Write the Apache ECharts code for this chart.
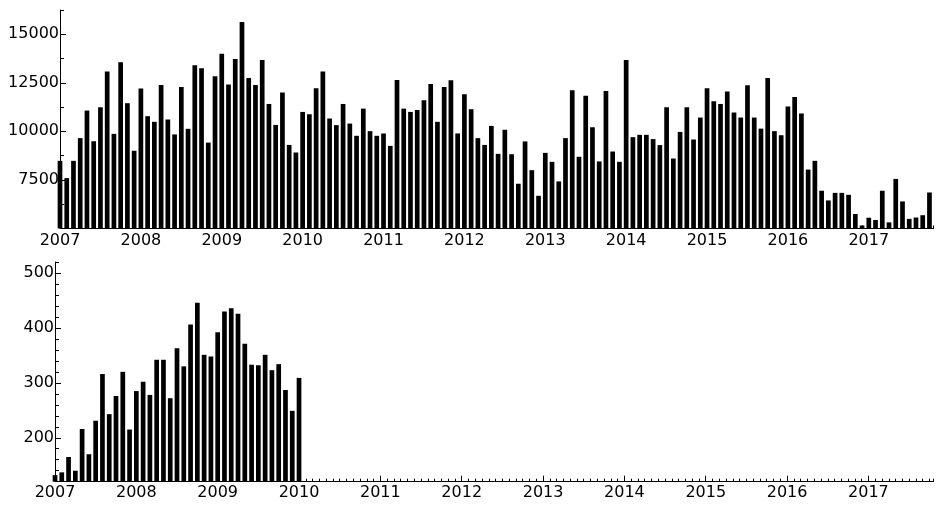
<!DOCTYPE html>
<html>
<head>
<meta charset="utf-8">
<script src="https://cdn.jsdelivr.net/npm/echarts@6/dist/echarts.min.js"></script>
<style>
html,body{margin:0;padding:0;background:#fff;}
#chart{width:936px;height:505px;}
</style>
</head>
<body>
<div id="chart"></div>
<script>
// Monthly values, Jan 2007 .. Oct 2017 (top panel)
const topValues = [
  8480, 7590, 8480, 9650, 11070, 9490, 11240, 13080, 9870, 13560, 11450, 9000,
  12200, 10780, 10490, 12390, 10610, 9840, 12290, 10130, 13400, 13250, 9420, 12840,
  14000, 12410, 13730, 15630, 12750, 12390, 13680, 11410, 10330, 12000, 9300, 8910,
  11000, 10880, 12220, 13080, 10660, 10320, 11410, 10400, 9770, 11170, 10010, 9770,
  9890, 9250, 12650, 11170, 11000, 11100, 11600, 12440, 10490, 12290, 12630, 9890,
  11910, 11140, 9650, 9300, 10280, 8840, 10080, 8820, 7300, 9480, 8000, 6680,
  8890, 8430, 7420, 9650, 12120, 8690, 11830, 10210, 8450, 12080, 8960, 8430,
  13680, 9700, 9820, 9820, 9600, 9290, 11240, 8600, 9970, 11240, 9580, 10710,
  12220, 11550, 11410, 12050, 10970, 10710, 12380, 10710, 10140, 12750, 10010, 9800,
  11280, 11770, 10920, 8030, 8480, 6940, 6440, 6830, 6830, 6730, 5740, 5150,
  5550, 5430, 6940, 5310, 7550, 6390, 5490, 5560, 5680, 6850
];
// Monthly values, Jan 2007 .. Jan 2010 (bottom panel)
const bottomValues = [
  132, 137, 165, 140, 216, 170, 231, 316, 243, 276, 320, 215,
  285, 302, 278, 342, 342, 272, 363, 330, 406, 446, 351, 348,
  392, 430, 436, 426, 371, 333, 332, 351, 323, 334, 287, 249,
  309
];
const yearLabels = ['2007','2008','2009','2010','2011','2012','2013','2014','2015','2016','2017'];
const topYTicks = [7500, 10000, 12500, 15000];
const bottomYTicks = [200, 300, 400, 500];

const yearTicks = yearLabels.map((y, i) => i * 12);
const FONT = 'DejaVu Sans';
const XMAX = 129.6;
const black = '#000';

function minorX(grid) {
  return {
    type: 'value', gridIndex: grid, position: 'bottom', min: 0, max: XMAX, interval: 1,
    axisLine: {show: true, onZero: false, lineStyle: {color: black, width: 1}},
    axisTick: {show: true, inside: true, length: 3, lineStyle: {color: black}},
    axisLabel: {show: false}, splitLine: {show: false}
  };
}
function majorX(grid, margin) {
  return {
    type: 'value', gridIndex: grid, position: 'bottom', offset: 0, min: 0, max: XMAX,
    axisLine: {show: false, onZero: false},
    axisTick: {show: true, inside: true, length: 6, customValues: yearTicks, lineStyle: {color: black}},
    axisLabel: {show: true, customValues: yearTicks, margin: margin, color: black,
      fontFamily: FONT, fontSize: 16,
      formatter: v => yearLabels[Math.round(v / 12)]},
    splitLine: {show: false}
  };
}
function minorY(grid, min, max, interval) {
  return {
    type: 'value', gridIndex: grid, position: 'left', min: min, max: max, interval: interval,
    axisLine: {show: true, onZero: false, lineStyle: {color: black, width: 1}},
    axisTick: {show: true, inside: true, length: 4, lineStyle: {color: black}},
    axisLabel: {show: false}, splitLine: {show: false}
  };
}
function majorY(grid, min, max, ticks) {
  return {
    type: 'value', gridIndex: grid, position: 'left', offset: 0, min: min, max: max,
    axisLine: {show: false, onZero: false},
    axisTick: {show: true, inside: true, length: 6, customValues: ticks, lineStyle: {color: black}},
    axisLabel: {show: true, customValues: ticks, margin: 1, color: black,
      fontFamily: FONT, fontSize: 16, formatter: v => String(v)},
    splitLine: {show: false}
  };
}

const chart = echarts.init(document.getElementById('chart'), null, {renderer: 'canvas'});
chart.setOption({
  animation: false,
  backgroundColor: '#fff',
  grid: [
    {left: 60, right: 2.5, top: 10, height: 218.4, containLabel: false, outerBoundsMode: 'none'},
    {left: 55, right: 2.5, top: 262, height: 219.7, containLabel: false, outerBoundsMode: 'none'}
  ],
  xAxis: [minorX(0), majorX(0, 4), minorX(1), majorX(1, 3)],
  yAxis: [
    minorY(0, 5000, 16250, 1250), majorY(0, 5000, 16250, topYTicks),
    minorY(1, 120, 520, 20), majorY(1, 120, 520, bottomYTicks)
  ],
  series: [
    {type: 'bar', xAxisIndex: 0, yAxisIndex: 0, barWidth: 4.7, clip: true,
     itemStyle: {color: black}, data: topValues.map((v, i) => [i, v])},
    {type: 'bar', xAxisIndex: 2, yAxisIndex: 2, barWidth: 4.7, clip: true,
     itemStyle: {color: black}, data: bottomValues.map((v, i) => [i, v])}
  ]
});
</script>
</body>
</html>
